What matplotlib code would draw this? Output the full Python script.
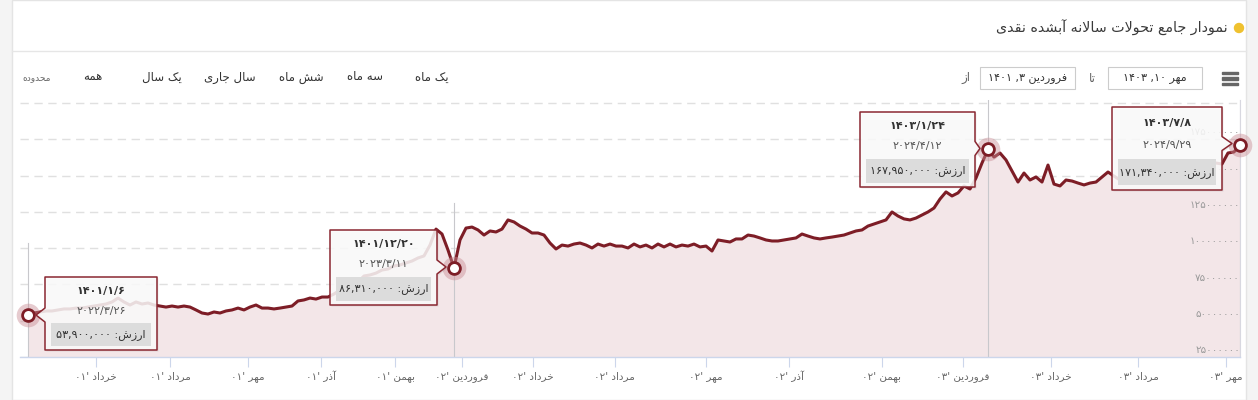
import numpy as np
import matplotlib
matplotlib.use("Agg")
import matplotlib.pyplot as plt
from matplotlib.patches import Polygon, Rectangle, Circle
from matplotlib.transforms import Affine2D, blended_transform_factory

# ---------------- data ----------------
# price series (million rial), evenly spaced trading-day points (ordinal axis)
values_m = [
    53.9, 55.3, 56.0, 56.7, 56.7, 57.4, 58.1, 58.1, 58.7, 58.7,
    59.4, 60.1, 60.8, 61.5, 62.9, 65.6, 62.9, 60.8, 62.9, 61.5,
    62.2, 60.8, 60.1, 59.4, 60.1, 59.4, 60.1, 59.4, 57.4, 55.3,
    54.6, 56.0, 55.3, 56.7, 57.4, 58.7, 57.4, 59.4, 60.8, 58.7,
    58.7, 58.1, 58.7, 59.4, 60.1, 63.6, 64.3, 65.6, 64.9, 66.3,
    66.3, 68.4, 71.1, 71.8, 72.5, 76.6, 80.8, 81.5, 82.8, 84.9,
    85.6, 87.7, 88.4, 89.8, 91.1, 93.2, 94.6, 102.1, 113.1, 109.7,
    98.7, 86.31, 105.6, 113.8, 114.5, 112.5, 109.0, 111.8, 111.1, 113.1,
    119.4, 118.0, 115.2, 113.1, 110.4, 110.4, 109.0, 103.5, 99.4, 102.1,
    101.4, 102.8, 103.5, 102.1, 100.1, 102.8, 101.4, 102.8, 101.4, 101.4,
    100.1, 102.8, 100.8, 102.1, 100.1, 102.8, 100.8, 102.8, 100.8, 102.1,
    101.4, 102.8, 100.8, 101.4, 98.0, 105.6, 104.9, 104.2, 106.3, 106.3,
    109.0, 108.3, 107.0, 105.6, 104.9, 104.9, 105.6, 106.3, 107.0, 109.7,
    108.3, 107.0, 106.3, 107.0, 107.6, 108.3, 109.0, 110.4, 111.8, 112.5,
    115.2, 116.6, 118.0, 119.4, 124.9, 122.1, 120.1, 119.4, 120.7, 122.8,
    124.9, 127.6, 133.8, 138.7, 135.9, 138.0, 142.8, 140.7, 148.3, 158.6,
    167.95, 162.7, 165.5, 160.7, 153.1, 145.5, 151.7, 146.9, 149.0, 145.5,
    157.2, 144.1, 142.8, 146.9, 146.2, 144.8, 143.5, 144.8, 145.5, 149.0,
    152.4, 149.6, 146.9, 144.8, 146.2, 144.8, 147.6, 149.6, 148.3, 151.0,
    149.6, 152.4, 150.3, 152.4, 153.8, 152.4, 155.2, 156.5, 158.6, 157.9,
    165.5, 166.2, 171.34,
]

month_tick_pos = [11.3, 23.7, 36.7, 48.8, 61.2, 72.3, 84.2, 97.8, 113.0,
                  126.8, 142.3, 155.8, 170.5, 185.0, 199.7]
month_tick_labels = ["خرداد '۰۱", "مرداد '۰۱", "مهر '۰۱", "آذر '۰۱", "بهمن '۰۱",
                     "فروردین '۰۲", "خرداد '۰۲", "مرداد '۰۲", "مهر '۰۲", "آذر '۰۲",
                     "بهمن '۰۲", "فروردین '۰۳", "خرداد '۰۳", "مرداد '۰۳", "مهر '۰۳"]

grid_vals = [25, 50, 75, 100, 125, 150, 175, 200]
ytick_vals = [25, 50, 75, 100, 125, 150, 175]
ytick_labels = ["۲۵۰۰۰۰۰۰", "۵۰۰۰۰۰۰۰", "۷۵۰۰۰۰۰۰", "۱۰۰۰۰۰۰۰۰",
                "۱۲۵۰۰۰۰۰۰", "۱۵۰۰۰۰۰۰۰", "۱۷۵۰۰۰۰۰۰"]

hl_index = [0, 71, 160, 202]
hl_jalali = ["۱۴۰۱/۱/۶", "۱۴۰۱/۱۲/۲۰", "۱۴۰۳/۱/۲۴", "۱۴۰۳/۷/۸"]
hl_greg = ["۲۰۲۲/۳/۲۶", "۲۰۲۳/۳/۱۱", "۲۰۲۴/۴/۱۲", "۲۰۲۴/۹/۲۹"]
hl_value = ["ارزش: ۵۳,۹۰۰,۰۰۰", "ارزش: ۸۶,۳۱۰,۰۰۰",
            "ارزش: ۱۶۷,۹۵۰,۰۰۰", "ارزش: ۱۷۱,۳۴۰,۰۰۰"]

title = "نمودار جامع تحولات سالانه آبشده نقدی"
range_buttons = ["یک ماه", "سه ماه", "شش ماه", "سال جاری", "یک سال", "همه"]
range_label = "محدوده"
from_label, to_label = "از", "تا"
from_date, to_date = "فروردین ۳, ۱۴۰۱", "مهر ۱۰, ۱۴۰۳"

# ---------------- arabic shaping / simple bidi ----------------
AR = {
    'ا': (0xFE8D, 0xFE8E, None, None), 'آ': (0xFE81, 0xFE82, None, None),
    'ب': (0xFE8F, 0xFE90, 0xFE91, 0xFE92), 'ت': (0xFE95, 0xFE96, 0xFE97, 0xFE98),
    'ج': (0xFE9D, 0xFE9E, 0xFE9F, 0xFEA0), 'ح': (0xFEA1, 0xFEA2, 0xFEA3, 0xFEA4),
    'خ': (0xFEA5, 0xFEA6, 0xFEA7, 0xFEA8), 'د': (0xFEA9, 0xFEAA, None, None),
    'ذ': (0xFEAB, 0xFEAC, None, None), 'ر': (0xFEAD, 0xFEAE, None, None),
    'ز': (0xFEAF, 0xFEB0, None, None), 'س': (0xFEB1, 0xFEB2, 0xFEB3, 0xFEB4),
    'ش': (0xFEB5, 0xFEB6, 0xFEB7, 0xFEB8), 'ع': (0xFEC9, 0xFECA, 0xFECB, 0xFECC),
    'ف': (0xFED1, 0xFED2, 0xFED3, 0xFED4), 'ق': (0xFED5, 0xFED6, 0xFED7, 0xFED8),
    'ک': (0xFB8E, 0xFB8F, 0xFB90, 0xFB91), 'ك': (0xFED9, 0xFEDA, 0xFEDB, 0xFEDC),
    'ل': (0xFEDD, 0xFEDE, 0xFEDF, 0xFEE0), 'م': (0xFEE1, 0xFEE2, 0xFEE3, 0xFEE4),
    'ن': (0xFEE5, 0xFEE6, 0xFEE7, 0xFEE8), 'ه': (0xFEE9, 0xFEEA, 0xFEEB, 0xFEEC),
    'و': (0xFEED, 0xFEEE, None, None), 'ی': (0xFBFC, 0xFBFD, 0xFBFE, 0xFBFF),
    'ي': (0xFEF1, 0xFEF2, 0xFEF3, 0xFEF4),
}


def shape(s):
    out, i, n = [], 0, len(s)
    while i < n:
        c = s[i]
        if c not in AR:
            out.append(c)
            i += 1
            continue
        prev = s[i - 1] if i > 0 else None
        pj = prev in AR and AR[prev][2] is not None
        if c == 'ل' and i + 1 < n and s[i + 1] == 'ا':
            out.append(chr(0xFEFC if pj else 0xFEFB))
            i += 2
            continue
        nxt = s[i + 1] if i + 1 < n else None
        nj = nxt in AR and AR[c][2] is not None
        iso, fin, ini, med = AR[c]
        f = med if (pj and nj) else fin if pj else ini if nj else iso
        out.append(chr(f))
        i += 1
    return ''.join(out)


def vis(s):
    """Shape Arabic letters and lay out an RTL paragraph left-to-right."""
    if not any(c in AR for c in s):
        return s
    sh = shape(s)
    cats = ['E' if c.isdigit() else 'N' for c in sh]
    for i, c in enumerate(sh):
        if c in ',./' and 0 < i < len(sh) - 1 and cats[i - 1] == 'E' and sh[i + 1].isdigit():
            cats[i] = 'E'
    runs, cur, cc = [], '', None
    for c, k in zip(sh, cats):
        if k != cc and cur:
            runs.append((cc, cur))
            cur = ''
        cc = k
        cur += c
    if cur:
        runs.append((cc, cur))
    return ''.join(t if k == 'E' else t[::-1] for k, t in reversed(runs))


# ---------------- figure ----------------
W, H = 1258, 400
plt.rcParams['font.family'] = ['DejaVu Sans']
fig = plt.figure(figsize=(W / 100, H / 100), dpi=100)
fig.patch.set_facecolor('#f4f4f4')
PX = Affine2D().scale(1 / W, -1 / H).translate(0, 1) + fig.transFigure

# card background
fig.add_artist(Rectangle((12, 0), 1234, 400, transform=PX, facecolor='white',
                         edgecolor='#e4e4e4', lw=1, zorder=-5))
fig.add_artist(plt.Line2D([12, 1246], [50.5, 50.5], transform=PX, color='#e6e6e6', lw=1))

# title
fig.add_artist(Circle((1239, 28), 4.5, transform=PX, color='#efc12f', zorder=3))
fig.text(1228 / W, 1 - 28 / H, vis(title), ha='right', va='center', fontsize=10.3,
         color='#3a3a3a')

# range selector
btn_x = [432, 365, 301, 230, 162, 93]
for t, bx in zip(range_buttons, btn_x):
    fig.text(bx / W, 1 - 77 / H, vis(t), ha='center', va='center', fontsize=8.5,
             color='#333333')
fig.text(37 / W, 1 - 78 / H, vis(range_label), ha='center', va='center', fontsize=6.5,
         color='#666666')

fig.text(966 / W, 1 - 78 / H, vis(from_label), ha='center', va='center', fontsize=8.5,
         color='#666666')
fig.text(1092 / W, 1 - 78 / H, vis(to_label), ha='center', va='center', fontsize=8.5,
         color='#666666')
for (x0, x1), t in zip([(980, 1075), (1108, 1202)], [from_date, to_date]):
    fig.add_artist(Rectangle((x0, 67), x1 - x0, 22, transform=PX, facecolor='white',
                             edgecolor='#cccccc', lw=0.8))
    fig.text((x0 + x1) / 2 / W, 1 - 78 / H, vis(t), ha='center', va='center',
             fontsize=8, color='#333333')
for yy in (73, 78.5, 84):
    fig.add_artist(Rectangle((1222, yy - 1.3), 16, 2.6, transform=PX, color='#666666'))

# ---------------- chart ----------------
x = np.arange(len(values_m))
vals = np.array(values_m)
ax = fig.add_axes([20 / W, (H - 357) / H, (1240 - 20) / W, (357 - 100) / H])
ax.set_facecolor('none')
ax.set_xlim(-1.333, len(values_m) - 1)
ax.set_ylim(25, 202)

ax.fill_between(x, vals, 25, color='#f3e6e8', lw=0, zorder=1)
ax.plot(x, vals, color='#7d1d26', lw=2.2, zorder=3, solid_joinstyle='round')

ax.set_yticks(grid_vals)
ax.yaxis.set_ticklabels([])
ax.tick_params(axis='y', length=0)
ax.grid(axis='y', color='#e0e0e0', lw=1, ls=(0, (6, 4)))
ax.set_axisbelow(True)

for sp in ('left', 'top'):
    ax.spines[sp].set_visible(False)
ax.spines['right'].set_color('#d8d8e0')
ax.spines['right'].set_linewidth(0.8)
ax.spines['bottom'].set_color('#ccd6eb')
ax.spines['bottom'].set_linewidth(1)

ax.set_xticks(month_tick_pos)
ax.set_xticklabels([vis(t) for t in month_tick_labels], fontsize=7.5, color='#666666')
ax.tick_params(axis='x', length=7, width=0.8, color='#ccd6eb', pad=3)

# y labels (inside, right, above gridlines)
bt = blended_transform_factory(ax.transAxes, ax.transData)
for v, t in zip(ytick_vals, ytick_labels):
    ax.text(1.0, v + 1.2, t, transform=bt, ha='right', va='bottom', fontsize=7.5,
            color='#9a9a9a', zorder=2)

# crosshair lines
cross_top = [0.444, 0.599, 1.0, 1.0]
for i, top in zip(hl_index, cross_top):
    ax.axvline(x[i], ymin=0, ymax=top, color='#c8c8cc', lw=0.8, zorder=2)

# highlighted points
for i in hl_index:
    ax.plot(x[i], vals[i], 'o', ms=17, color='#c98d95', alpha=0.45, mew=0,
            zorder=4, clip_on=False)
    ax.plot(x[i], vals[i], 'o', ms=8.5, mfc='white', mec='#7d1d26', mew=2,
            zorder=5, clip_on=False)

# ---------------- tooltips ----------------
boxes = [(45, 277, 157, 350, 'left'), (330, 230, 437, 305, 'right'),
         (860, 112, 975, 187, 'right'), (1112, 107, 1222, 190, 'right')]


def to_px(xd, yd):
    dx, dy = ax.transData.transform((xd, yd))
    return dx, H - dy


for k, (x0, y0, x1, y1, side) in enumerate(boxes):
    i = hl_index[k]
    px, py = to_px(x[i], vals[i])
    if side == 'left':
        tip = (px + 8, py)
        by = min(max(py, y0 + 10), y1 - 10)
        pts = [(x0, y0), (x1, y0), (x1, y1), (x0, y1), (x0, by + 7), tip, (x0, by - 7)]
    else:
        tip = (px - 8, py - 1)
        by = min(max(py - 1, y0 + 10), y1 - 10)
        pts = [(x0, y0), (x1, y0), (x1, by - 7), tip, (x1, by + 7), (x1, y1), (x0, y1)]
    shadow = Polygon([(a + 1.5, b + 1.5) for a, b in pts], closed=True, transform=PX,
                     facecolor='black', alpha=0.07, lw=0, zorder=6)
    fig.add_artist(shadow)
    fig.add_artist(Polygon(pts, closed=True, transform=PX, facecolor=(0.99, 0.99, 0.99, 0.86),
                           edgecolor='#8a2731', lw=1.1, zorder=7, joinstyle='round'))
    h = y1 - y0
    cx = (x0 + x1) / 2
    fig.text(cx / W, 1 - (y0 + 0.19 * h) / H, hl_jalali[k], ha='center', va='center',
             fontsize=8, color='#333333', fontweight='bold', zorder=8)
    fig.text(cx / W, 1 - (y0 + 0.46 * h) / H, hl_greg[k], ha='center', va='center',
             fontsize=8, color='#555555', zorder=8)
    r0, r1 = y0 + 0.63 * h, y0 + 0.94 * h
    fig.add_artist(Rectangle((x0 + 6, r0), (x1 - x0) - 12, r1 - r0, transform=PX,
                             facecolor='#dcdcdc', lw=0, zorder=8))
    fig.text(cx / W, 1 - (r0 + r1) / 2 / H, vis(hl_value[k]), ha='center', va='center',
             fontsize=8, color='#333333', zorder=9)

fig.savefig('out.png', dpi=100, facecolor=fig.get_facecolor())
